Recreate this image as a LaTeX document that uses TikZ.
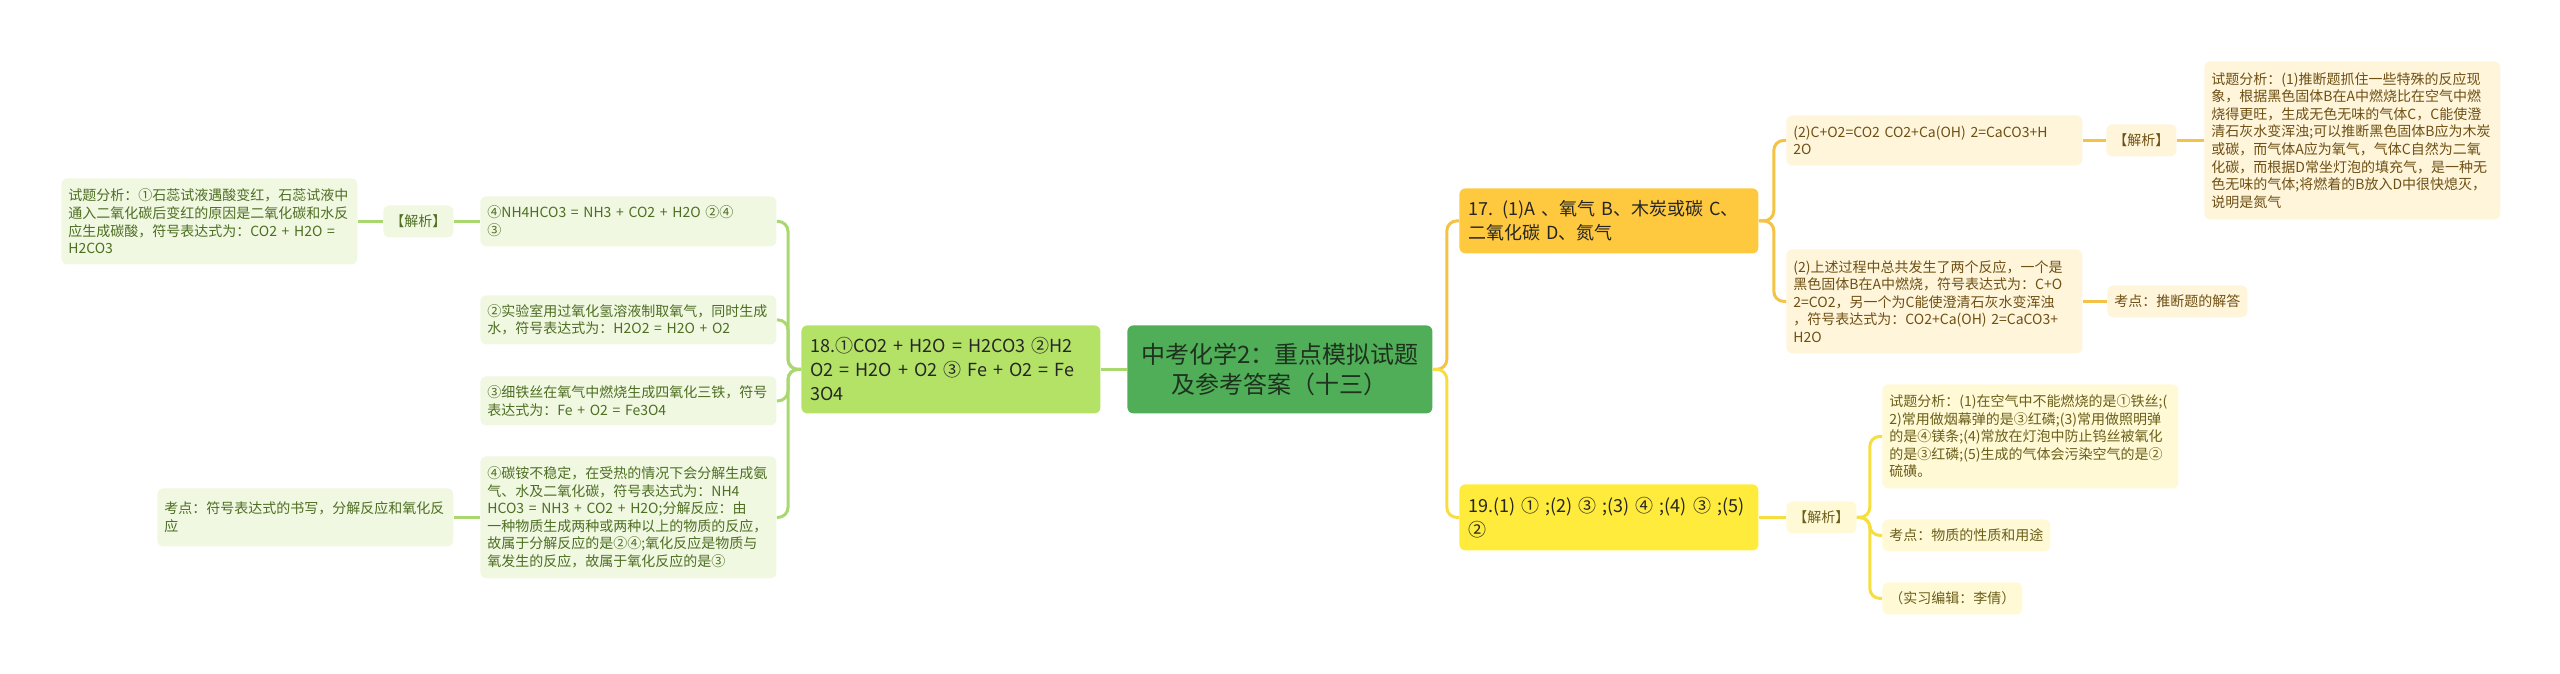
\documentclass[tikz,border=0pt]{standalone}
\usepackage{fontspec}
\setmainfont{Noto Sans CJK SC}

\definecolor{rootfill}{HTML}{4FAE57}
\definecolor{roottext}{HTML}{1E321E}
\definecolor{topictext}{HTML}{262626}
\definecolor{gtopiccol}{HTML}{B3E266}
\definecolor{gleafcol}{HTML}{F0F8E2}
\definecolor{gtextcol}{HTML}{4E6E22}
\definecolor{glinecol}{HTML}{A9D86F}
\definecolor{otopiccol}{HTML}{FFC93F}
\definecolor{oleafcol}{HTML}{FFF5DB}
\definecolor{otextcol}{HTML}{6E5014}
\definecolor{olinecol}{HTML}{F4C244}
\definecolor{ytopiccol}{HTML}{FFEB3B}
\definecolor{yleafcol}{HTML}{FFF9D5}
\definecolor{ytextcol}{HTML}{6B5E1A}
\definecolor{ylinecol}{HTML}{F6DE3E}

\begin{document}
\begin{tikzpicture}[x=0.5pt, y=-0.5pt,
    every node/.style={rectangle, rounded corners=3pt, anchor=north west, inner ysep=0pt},
    root/.style={fill=rootfill, text=roottext, align=center, minimum width=152.5pt, minimum height=44pt, font=\fontsize{12}{15}\selectfont},
    topic/.style={inner xsep=4.5pt, text width=140.5pt, align=left, text=topictext, font=\fontsize{9}{12}\selectfont},
    leaf/.style={inner xsep=3.5pt, align=left, font=\fontsize{7}{8.8}\selectfont},
    wide/.style={leaf, text width=141pt},
    tag/.style={leaf, align=center, minimum width=35pt, minimum height=16pt},
    gbox/.style={fill=gleafcol, text=gtextcol},
    obox/.style={fill=oleafcol, text=otextcol},
    ybox/.style={fill=yleafcol, text=ytextcol},
    gconn/.style={draw=glinecol, line width=1.5pt, rounded corners=5pt},
    oconn/.style={draw=olinecol, line width=1.5pt, rounded corners=5pt},
    yconn/.style={draw=ylinecol, line width=1.5pt, rounded corners=5pt}]

    \useasboundingbox (0,0) rectangle (2560,674);

    % Root.
    \node[root] (root) at (1127,325) {中考化学2：重点模拟试题\\及参考答案（十三）};

    % Topic 18, left.
    \node[topic, fill=gtopiccol, minimum height=44pt] (T-18) at (801,325) {18.①CO2 + H2O = H2CO3 ②H2\\O2 = H2O + O2 ③ Fe + O2 = Fe\\3O4};
    \node[wide, gbox, minimum height=25pt] (L-1) at (480,196) {④NH4HCO3 = NH3 + CO2 + H2O ②④\\③};
    \node[wide, gbox, minimum height=24.5pt] (L-2) at (480,295) {②实验室用过氧化氢溶液制取氧气，同时生成\\水，符号表达式为：H2O2 = H2O + O2};
    \node[wide, gbox, minimum height=24.5pt] (L-3) at (480,376) {③细铁丝在氧气中燃烧生成四氧化三铁，符号\\表达式为：Fe + O2 = Fe3O4};
    \node[wide, gbox, minimum height=61pt] (L-4) at (480,456) {④碳铵不稳定，在受热的情况下会分解生成氨\\气、水及二氧化碳，符号表达式为：NH4\\HCO3 = NH3 + CO2 + H2O;分解反应：由\\一种物质生成两种或两种以上的物质的反应，\\故属于分解反应的是②④;氧化反应是物质与\\氧发生的反应，故属于氧化反应的是③};
    \node[tag, gbox] (J-18) at (383,205) {【解析】};
    \node[wide, gbox, minimum height=43pt] (A-18) at (61,178) {试题分析：①石蕊试液遇酸变红，石蕊试液中\\通入二氧化碳后变红的原因是二氧化碳和水反\\应生成碳酸，符号表达式为：CO2 + H2O =\\H2CO3};
    \node[wide, gbox, minimum height=29pt] (K-18) at (157,488) {考点：符号表达式的书写，分解反应和氧化反\\应};

    % Topic 17, right.
    \node[topic, fill=otopiccol, minimum height=32.5pt] (T-17) at (1459,188) {17. (1)A 、氧气 B、木炭或碳 C、\\二氧化碳 D、氮气};
    \node[wide, obox, minimum height=25pt] (R-1) at (1786,115) {(2)C+O2=CO2 CO2+Ca(OH) 2=CaCO3+H\\2O};
    \node[wide, obox, minimum height=52pt] (R-2) at (1786,249) {(2)上述过程中总共发生了两个反应，一个是\\黑色固体B在A中燃烧，符号表达式为：C+O\\2=CO2，另一个为C能使澄清石灰水变浑浊\\，符号表达式为：CO2+Ca(OH) 2=CaCO3+\\H2O};
    \node[tag, obox] (J-17) at (2106,124) {【解析】};
    \node[wide, obox, minimum height=79pt] (A-17) at (2204,61) {试题分析：(1)推断题抓住一些特殊的反应现\\象，根据黑色固体B在A中燃烧比在空气中燃\\烧得更旺，生成无色无味的气体C，C能使澄\\清石灰水变浑浊;可以推断黑色固体B应为木炭\\或碳，而气体A应为氧气，气体C自然为二氧\\化碳，而根据D常坐灯泡的填充气，是一种无\\色无味的气体;将燃着的B放入D中很快熄灭，\\说明是氮气};
    \node[leaf, obox, minimum height=16pt] (K-17) at (2107,285) {考点：推断题的解答};

    % Topic 19, right.
    \node[topic, fill=ytopiccol, minimum height=33pt] (T-19) at (1459,484) {19.(1) ① ;(2) ③ ;(3) ④ ;(4) ③ ;(5)\\②};
    \node[tag, ybox] (J-19) at (1786,501) {【解析】};
    \node[wide, ybox, minimum height=52pt] (Y-1) at (1882,384) {试题分析：(1)在空气中不能燃烧的是①铁丝;(\\2)常用做烟幕弹的是③红磷;(3)常用做照明弹\\的是④镁条;(4)常放在灯泡中防止钨丝被氧化\\的是③红磷;(5)生成的气体会污染空气的是②\\硫磺。};
    \node[leaf, ybox, minimum height=16pt] (Y-2) at (1882,519) {考点：物质的性质和用途};
    \node[leaf, ybox, minimum height=16pt] (Y-3) at (1882,582) {（实习编辑：李倩）};

    % Root connections.
    \coordinate (S-r) at ([xshift=7pt]root.east);
    \draw[oconn] (root.east) -- (S-r) |- (T-17.west);
    \draw[yconn] (root.east) -- (S-r) |- (T-19.west);
    \draw[gconn] (root.west) -- (T-18.east);

    % 18 connections.
    \coordinate (S-18) at ([xshift=-6.5pt]T-18.west);
    \foreach \c in {1,...,4}
        \draw[gconn] (T-18.west) -- (S-18) |- (L-\c.east);
    \draw[gconn] (L-1.west) -- (J-18.east);
    \draw[gconn] (J-18.west) -- (A-18.east);
    \draw[gconn] (L-4.west) -- (K-18.east);

    % 17 connections.
    \coordinate (S-17) at ([xshift=7.5pt]T-17.east);
    \foreach \c in {1,2}
        \draw[oconn] (T-17.east) -- (S-17) |- (R-\c.west);
    \draw[oconn] (R-1.east) -- (J-17.west);
    \draw[oconn] (J-17.east) -- (A-17.west);
    \draw[oconn] (R-2.east) -- (K-17.west);

    % 19 connections.
    \draw[yconn] (T-19.east) -- (J-19.west);
    \coordinate (S-19) at ([xshift=6.5pt]J-19.east);
    \foreach \c in {1,...,3}
        \draw[yconn] (J-19.east) -- (S-19) |- (Y-\c.west);

\end{tikzpicture}
\end{document}
